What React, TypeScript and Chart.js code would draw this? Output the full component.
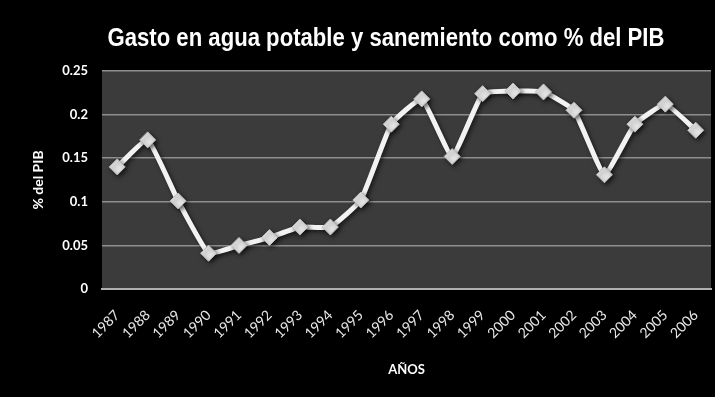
import React, { useEffect, useRef } from "react";
import { Chart, registerables } from "chart.js";

Chart.register(...registerables);

const TITLE = "Gasto en agua potable y sanemiento como % del PIB";
const Y_TITLE = "% del PIB";
const X_TITLE = "AÑOS";
const years = ["1987","1988","1989","1990","1991","1992","1993","1994","1995","1996","1997","1998","1999","2000","2001","2002","2003","2004","2005","2006"];
const gasto = [0.140, 0.171, 0.101, 0.041, 0.050, 0.059, 0.071, 0.071, 0.102, 0.189, 0.218, 0.152, 0.224, 0.227, 0.226, 0.205, 0.131, 0.189, 0.212, 0.182];
const yTicks = [0, 0.05, 0.1, 0.15, 0.2, 0.25];

const bgPlugin = {
  id: "bgPlugin",
  beforeDraw(chart: any) {
    const { ctx, chartArea, width, height } = chart;
    ctx.save();
    ctx.fillStyle = "#000000";
    ctx.fillRect(0, 0, width, height);
    ctx.fillStyle = "#3b3b3b";
    ctx.fillRect(chartArea.left, chartArea.top, chartArea.right - chartArea.left, chartArea.bottom - chartArea.top);
    ctx.restore();
  },
  beforeDatasetDraw(chart: any) {
    const ctx = chart.ctx;
    ctx.save();
    ctx.shadowColor = "rgba(0,0,0,0.6)";
    ctx.shadowBlur = 4;
    ctx.shadowOffsetX = 2;
    ctx.shadowOffsetY = 2;
  },
  afterDatasetDraw(chart: any) {
    chart.ctx.restore();
  },
  afterDraw(chart: any) {
    const { ctx } = chart;
    ctx.save();
    ctx.fillStyle = "#ffffff";
    ctx.font = 'bold 26px "Liberation Sans", Arial, sans-serif';
    ctx.textBaseline = "middle";
    const w = ctx.measureText(TITLE).width;
    const target = 557;
    const sx = target / w;
    ctx.translate(386 - target / 2, 39);
    ctx.scale(sx, 1);
    ctx.textAlign = "left";
    ctx.fillText(TITLE, 0, 0);
    ctx.restore();
  },
};

export default function App() {
  const ref = useRef<HTMLCanvasElement | null>(null);
  useEffect(() => {
    document.body.style.margin = "0";
    document.body.style.background = "#000";
    if (!ref.current) return;
    const chart = new Chart(ref.current, {
      type: "line",
      data: {
        labels: years,
        datasets: [
          {
            data: gasto,
            borderColor: "#f2f2f2",
            borderWidth: 5,
            tension: 0.12,
            pointStyle: "rectRot",
            pointRadius: 8,
            pointBackgroundColor: "#e4e4e4",
            pointBorderColor: "#bdbdbd",
            pointBorderWidth: 1,
          },
        ],
      },
      options: {
        animation: false,
        responsive: false,
        layout: { autoPadding: false, padding: { top: 71, right: 4, left: 0, bottom: 0 } },
        plugins: { legend: { display: false }, title: { display: false }, tooltip: { enabled: false } },
        scales: {
          x: {
            offset: true,
            afterFit: (s: any) => { s.height = 108; s.paddingLeft = 0; s.paddingRight = 0; },
            grid: { display: false, drawTicks: false },
            border: { color: "#b0b0b0", width: 2 },
            ticks: {
              color: "#e8e8e8",
              minRotation: 45,
              maxRotation: 45,
              padding: 18,
              font: { family: "Lato, 'Open Sans', sans-serif", size: 14 },
            },
            title: {
              display: true,
              text: X_TITLE,
              color: "#ffffff",
              font: { family: "Lato, 'Open Sans', sans-serif", size: 13, weight: "bold" },
              padding: { top: 0, bottom: 19 },
            },
          },
          y: {
            min: 0,
            max: 0.25,
            afterFit: (s: any) => { s.width = 102; s.paddingTop = 0; s.paddingBottom = 0; },
            afterBuildTicks: (s: any) => { s.ticks = yTicks.map((v) => ({ value: v })); },
            grid: { color: "#8e8e8e", lineWidth: 1.5, drawTicks: false },
            border: { display: false },
            ticks: {
              color: "#ffffff",
              padding: 14,
              font: { family: "Lato, 'Open Sans', sans-serif", size: 13, weight: "bold" },
              callback: (v: any) => String(v),
            },
            title: {
              display: true,
              text: Y_TITLE,
              color: "#ffffff",
              font: { family: "Lato, 'Open Sans', sans-serif", size: 14, weight: "bold" },
              padding: { top: 30, bottom: 0 },
            },
          },
        },
      },
      plugins: [bgPlugin],
    });
    return () => chart.destroy();
  }, []);
  return <canvas ref={ref} width={715} height={397} style={{ display: "block" }} />;
}
